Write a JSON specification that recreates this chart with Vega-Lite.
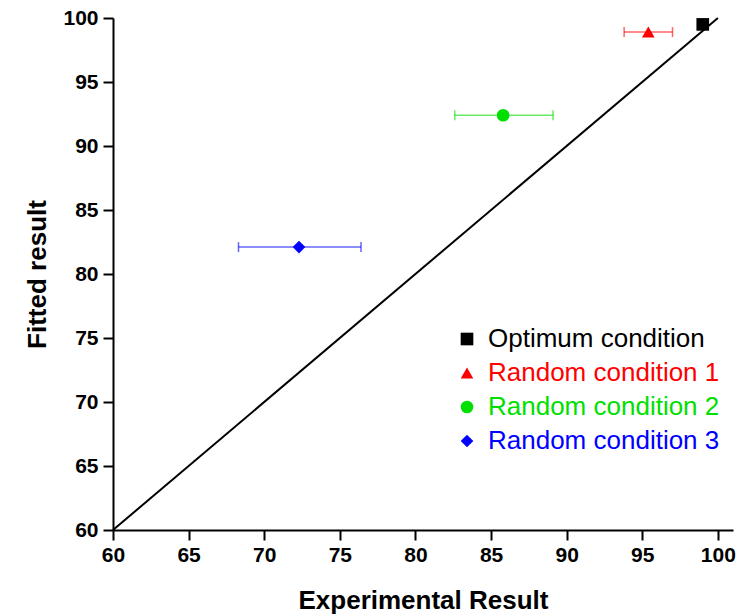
{
  "$schema": "https://vega.github.io/schema/vega-lite/v6.json",
  "width": 620,
  "height": 512,
  "padding": {"left": 113, "top": 18, "right": 5, "bottom": 85},
  "autosize": {"type": "none"},
  "background": "white",
  "config": {
    "view": {"stroke": null},
    "font": "Liberation Sans",
    "axis": {
      "domainColor": "black", "domainWidth": 2,
      "ticks": true, "tickSize": 10, "tickColor": "#000000", "tickWidth": 2, "tickOpacity": 1,
      "labelColor": "black", "labelFont": "Liberation Sans", "labelFontWeight": "bold", "labelFontSize": 21,
      "titleFont": "Liberation Sans", "titleFontWeight": "bold", "titleFontSize": 26, "titleColor": "black",
      "grid": false, "labelFlush": false
    },
    "legend": {
      "orient": "none", "legendX": 341, "legendY": 308, "title": null, "labelLimit": 0,
      "labelFontSize": 26, "labelFont": "Liberation Sans", "labelColor": "black", "symbolSize": 160, "rowPadding": 8, "labelOffset": 8,
      "symbolStrokeWidth": 0, "symbolOpacity": 1
    }
  },
  "datasets": {
    "pts": [
      {"name": "Optimum condition", "exp": 99.0, "fit": 99.5, "lo": 99.0, "hi": 99.0},
      {"name": "Random condition 1", "exp": 95.4, "fit": 98.9, "lo": 93.8, "hi": 97.0},
      {"name": "Random condition 2", "exp": 85.8, "fit": 92.4, "lo": 82.6, "hi": 89.1},
      {"name": "Random condition 3", "exp": 72.3, "fit": 82.1, "lo": 68.3, "hi": 76.4}
    ],
    "diag": [{"a": 60, "b": 60}, {"a": 100, "b": 100}]
  },
  "layer": [
    {
      "data": {"name": "pts"},
      "mark": {"type": "point", "filled": true, "opacity": 1},
      "encoding": {
        "x": {"field": "exp", "type": "quantitative", "scale": {"domain": [60, 101], "nice": false, "zero": false},
          "axis": {"title": "Experimental Result", "values": [60,62.5,65,67.5,70,72.5,75,77.5,80,82.5,85,87.5,90,92.5,95,97.5,100],
            "labelExpr": "datum.value % 5 === 0 ? datum.label : ''",
            "encode": {"ticks": {"update": {"stroke": {"value": "#000000"}, "strokeWidth": {"value": 2}, "strokeOpacity": {"value": 1}, "opacity": {"value": 1},
              "y": {"value": 0}, "y2": {"signal": "datum.value % 5 === 0 ? 10 : 6"}}}},
            "labelPadding": 4, "titlePadding": 22}},
        "y": {"field": "fit", "type": "quantitative", "scale": {"domain": [60, 100], "nice": false, "zero": false},
          "axis": {"title": "Fitted result", "values": [60,62.5,65,67.5,70,72.5,75,77.5,80,82.5,85,87.5,90,92.5,95,97.5,100],
            "labelExpr": "datum.value % 5 === 0 ? datum.label : ''",
            "encode": {"ticks": {"update": {"stroke": {"value": "#000000"}, "strokeWidth": {"value": 2}, "strokeOpacity": {"value": 1}, "opacity": {"value": 1},
              "x": {"value": 0}, "x2": {"signal": "datum.value % 5 === 0 ? -10 : -6"}}}},
            "labelPadding": 5, "titlePadding": 12}},
        "color": {"field": "name", "type": "nominal",
          "scale": {"domain": ["Optimum condition", "Random condition 1", "Random condition 2", "Random condition 3"],
            "range": ["#000000", "#ff0000", "#00e000", "#0000ff"]},
          "legend": {"encode": {"labels": {"update": {"fill": {"scale": "color", "field": "value"}}}}}},
        "shape": {"field": "name", "type": "nominal",
          "scale": {"domain": ["Optimum condition", "Random condition 1", "Random condition 2", "Random condition 3"],
            "range": ["square", "triangle-up", "circle", "diamond"]}},
        "size": {"value": 160}
      }
    },
    {
      "data": {"name": "diag"},
      "mark": {"type": "line", "color": "black", "strokeWidth": 2},
      "encoding": {
        "x": {"field": "a", "type": "quantitative"},
        "y": {"field": "b", "type": "quantitative"}
      }
    },
    {
      "data": {"name": "pts"},
      "transform": [{"filter": "datum.lo < datum.hi"}],
      "mark": {"type": "errorbar", "ticks": {"size": 10, "thickness": 1.5}, "rule": {"strokeWidth": 1.5}, "opacity": 0.6},
      "encoding": {
        "x": {"field": "lo", "type": "quantitative", "title": "Experimental Result"},
        "x2": {"field": "hi"},
        "y": {"field": "fit", "type": "quantitative", "title": "Fitted result"},
        "color": {"field": "name", "type": "nominal"}
      }
    }
  ]
}
